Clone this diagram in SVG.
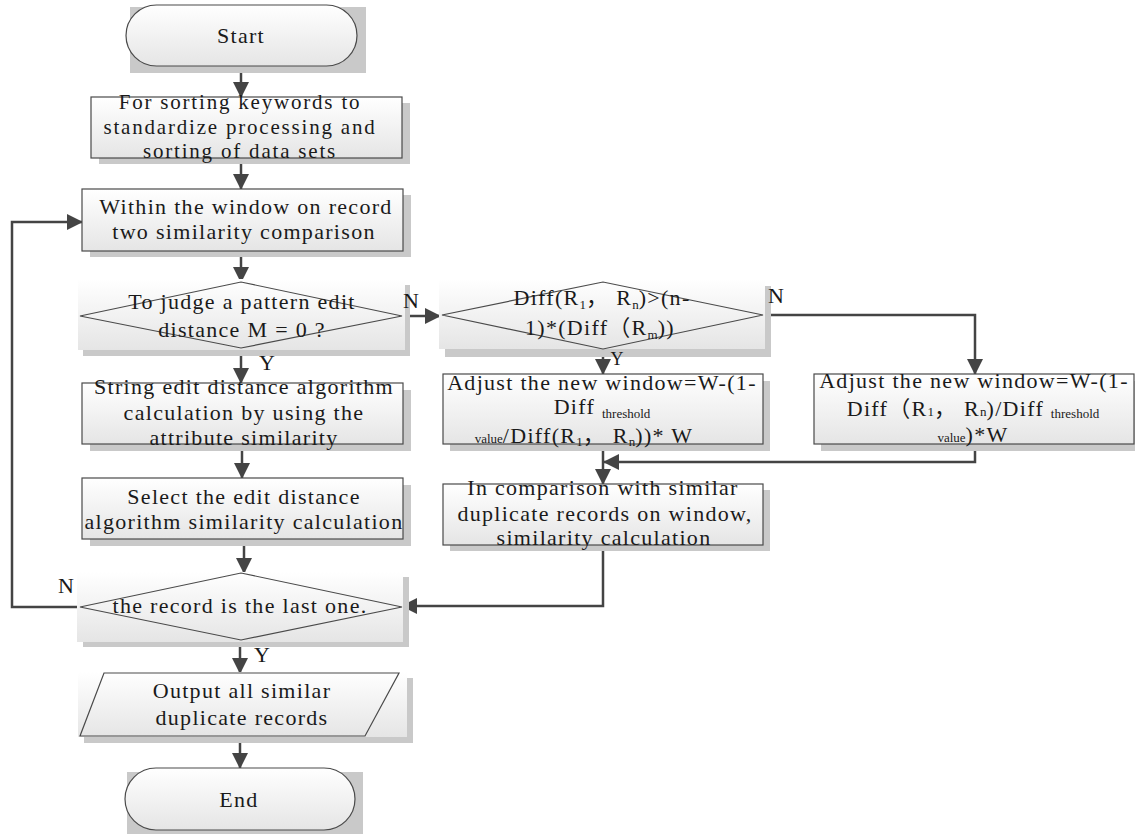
<svg xmlns="http://www.w3.org/2000/svg" width="1135" height="834" viewBox="0 0 1135 834">
<defs>
<linearGradient id="g" x1="0" y1="0" x2="0" y2="1">
<stop offset="0" stop-color="#ffffff"/>
<stop offset="1" stop-color="#e5e5e5"/>
</linearGradient>
<marker id="ah" viewBox="0 0 16 16" markerWidth="16" markerHeight="16" refX="15" refY="8" orient="auto" markerUnits="userSpaceOnUse">
<path d="M0,0 L16,8 L0,16 z" fill="#444"/>
</marker>
<style>
.sh{fill:#c9c9c9}
.bx{fill:url(#g);stroke:#4a4a4a;stroke-width:1.2}
.bg{fill:url(#g)}
.dm{fill:none;stroke:#4a4a4a;stroke-width:1.2}
text{font-family:"Liberation Serif","Times New Roman","Noto Sans CJK SC",serif;font-size:22px;fill:#1a1a1a;text-anchor:middle;letter-spacing:1.3px}
.t1{font-size:21px;letter-spacing:1.8px}
.sm{font-size:13px;letter-spacing:0}
.lb{letter-spacing:0}
.c{stroke:#444;stroke-width:2.5;fill:none}
</style>
</defs>
<rect width="1135" height="834" fill="#ffffff"/>

<g id="connectors">
<path class="c" d="M241,66 V97" marker-end="url(#ah)"/>
<path class="c" d="M241,158 V189" marker-end="url(#ah)"/>
<path class="c" d="M241,251 V282" marker-end="url(#ah)"/>
<path class="c" d="M402,316 H440" marker-end="url(#ah)"/>
<path class="c" d="M241,348 V383" marker-end="url(#ah)"/>
<path class="c" d="M242,444 V478" marker-end="url(#ah)"/>
<path class="c" d="M244,539 V573" marker-end="url(#ah)"/>
<path class="c" d="M80,607 H12 V222 H82" marker-end="url(#ah)"/>
<path class="c" d="M240,640 V673" marker-end="url(#ah)"/>
<path class="c" d="M240,737 V768" marker-end="url(#ah)"/>
<path class="c" d="M603,349 V374" marker-end="url(#ah)"/>
<path class="c" d="M763,315 H975 V374" marker-end="url(#ah)"/>
<path class="c" d="M603,444 V484" marker-end="url(#ah)"/>
<path class="c" d="M975,444 V462 H604" marker-end="url(#ah)"/>
<path class="c" d="M603,545 V606 H402" marker-end="url(#ah)"/>
</g>

<g id="start">
<rect class="sh" x="130" y="7" width="236" height="66"/>
<rect class="bx" x="126" y="5" width="231" height="61" rx="30.5"/>
<text x="241" y="43">Start</text>
</g>

<g id="sort">
<rect class="sh" x="99" y="103" width="311" height="61"/>
<rect class="bx" x="91" y="97" width="311" height="61"/>
<text class="t1" x="240" y="109">For sorting keywords to</text>
<text class="t1" x="240" y="134">standardize processing and</text>
<text class="t1" x="240" y="158">sorting of data sets</text>
</g>

<g id="compare">
<rect class="sh" x="90" y="195" width="321" height="62"/>
<rect class="bx" x="82" y="189" width="321" height="62"/>
<text x="246" y="214">Within the window on record</text>
<text x="244" y="239">two similarity comparison</text>
</g>

<g id="judge">
<rect class="sh" x="83" y="285" width="327" height="71"/>
<rect class="bg" x="78" y="279" width="327" height="71"/>
<polygon class="dm" points="80,316 241,282 402,316 241,348"/>
<text x="242" y="309">To judge a pattern edit</text>
<text x="242" y="337">distance M = 0 ?</text>
</g>

<g id="string">
<rect class="sh" x="90" y="390" width="321" height="61"/>
<rect class="bx" x="82" y="383" width="321" height="61"/>
<text x="244" y="394">String edit distance algorithm</text>
<text x="244" y="420">calculation by using the</text>
<text x="244" y="445">attribute similarity</text>
</g>

<g id="select">
<rect class="sh" x="90" y="485" width="321" height="61"/>
<rect class="bx" x="82" y="478" width="321" height="61"/>
<text x="244" y="504">Select the edit distance</text>
<text x="244" y="529">algorithm similarity calculation</text>
</g>

<g id="last">
<rect class="sh" x="83" y="577" width="326" height="70"/>
<rect class="bg" x="77" y="572" width="326" height="70"/>
<polygon class="dm" points="80,607 241,573 402,607 241,640"/>
<text x="240" y="613">the record is the last one.</text>
</g>

<g id="output">
<rect class="sh" x="84" y="678" width="329" height="65"/>
<rect class="bg" x="78" y="672" width="329" height="65"/>
<polygon class="dm" points="104,673 399,673 365,736 80,736"/>
<text x="242" y="698">Output all similar</text>
<text x="242" y="725">duplicate records</text>
</g>

<g id="end">
<rect class="sh" x="127" y="772" width="236" height="62"/>
<rect class="bx" x="125" y="768" width="230" height="62" rx="31"/>
<text x="239" y="807">End</text>
</g>

<g id="diff">
<rect class="sh" x="445" y="286" width="326" height="71"/>
<rect class="bg" x="439" y="279" width="326" height="70"/>
<polygon class="dm" points="442,315 603,282 763,315 603,349"/>
<text x="602" y="305">Diff(R<tspan class="sm" dy="4">1</tspan><tspan dy="-4">， R</tspan><tspan class="sm" dy="4">n</tspan><tspan dy="-4">)&gt;(n-</tspan></text>
<text x="600" y="335">1)*(Diff（R<tspan class="sm" dy="4">m</tspan><tspan dy="-4">))</tspan></text>
</g>

<g id="adjust1">
<rect class="sh" x="450" y="381" width="320" height="70"/>
<rect class="bx" x="443" y="374" width="320" height="70"/>
<text x="602" y="390">Adjust the new window=W-(1-</text>
<text x="602" y="414">Diff <tspan class="sm" dy="4">threshold</tspan></text>
<text x="584" y="443"><tspan class="sm">value</tspan>/Diff(R<tspan class="sm" dy="3">1</tspan><tspan dy="-3">， R</tspan><tspan class="sm" dy="3">n</tspan><tspan dy="-3">))* W</tspan></text>
</g>

<g id="adjust2">
<rect class="sh" x="821" y="381" width="320" height="70"/>
<rect class="bx" x="814" y="374" width="320" height="70"/>
<text x="974" y="388">Adjust the new window=W-(1-</text>
<text x="973" y="416">Diff（R<tspan class="sm">1</tspan>， R<tspan class="sm">n</tspan>)/Diff <tspan class="sm" dy="2">threshold</tspan></text>
<text x="973" y="442"><tspan class="sm">value</tspan>)*W</text>
</g>

<g id="window">
<rect class="sh" x="450" y="490" width="320" height="61"/>
<rect class="bx" x="443" y="484" width="320" height="61"/>
<text x="603" y="495">In comparison with similar</text>
<text x="605" y="521">duplicate records on window,</text>
<text x="604" y="545">similarity calculation</text>
</g>

<g id="labels">
<text class="lb" x="411" y="308">N</text>
<text class="lb" x="776" y="303">N</text>
<text class="lb" x="267" y="370">Y</text>
<text class="lb" x="617" y="365" style="font-size:18px">Y</text>
<text class="lb" x="66" y="593">N</text>
<text class="lb" x="262" y="662">Y</text>
</g>
</svg>
